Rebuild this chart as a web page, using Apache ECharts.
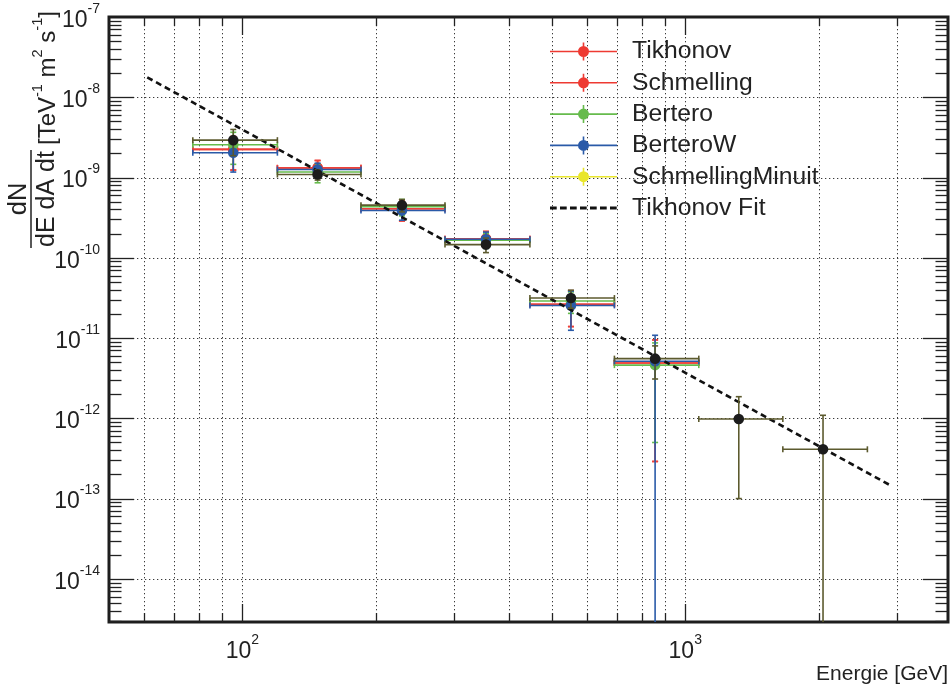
<!DOCTYPE html>
<html><head><meta charset="utf-8">
<script src="https://cdn.jsdelivr.net/npm/echarts@6/dist/echarts.min.js"></script>
<style>html,body{margin:0;padding:0;background:#fff}#c{width:952px;height:688px}</style>
</head><body><div id="c"></div>
<script>
// ---------- data ----------
const binCenter = [95.4, 147.9, 229.3, 354.9, 552, 855, 1321, 2047];
const binLow    = [77.3, 120, 185.3, 286.8, 446, 692, 1073, 1661];
const binHigh   = [120, 185.3, 286.8, 446, 692, 1073, 1661, 2578];

const tikhonov       = [2.24e-9, 1.32e-9, 4.08e-10, 1.73e-10, 2.64e-11, 4.89e-12];
const tikhonovErr    = [1.0e-9, 0.31e-9, 1.2e-10, 0.4e-10, 1.25e-11, 4.6e-12];
const schmelling     = [2.24e-9, 1.32e-9, 4.08e-10, 1.73e-10, 2.64e-11, 4.89e-12];
const schmellingErr  = [1.0e-9, 0.31e-9, 1.2e-10, 0.4e-10, 1.25e-11, 4.6e-12];
const bertero        = [2.56e-9, 1.17e-9, 4.33e-10, 1.66e-10, 2.89e-11, 4.6e-12];
const berteroErr     = [1.1e-9, 0.31e-9, 1.0e-10, 0.35e-10, 0.86e-11, 4.1e-12];
const berteroW       = [2.04e-9, 1.26e-9, 3.89e-10, 1.70e-10, 2.55e-11, 5.13e-12];
const berteroWErr    = [0.87e-9, 0.25e-9, 0.95e-10, 0.39e-10, 1.3e-11, 5.7e-12];
const minuit         = [2.92e-9, 1.09e-9, 4.53e-10, 1.46e-10, 3.15e-11, 5.54e-12, 9.8e-13, 4.11e-13];
const minuitErr      = [1.05e-9, 0.16e-9, 0.8e-10, 0.3e-10, 0.8e-11, 2.45e-12, 0.88e-12, 6.8e-13];

const fitX = [61, 2900];
const fitY = [1.77e-8, 1.47e-13];

const xMajorTicks = [100, 1000];
const xMinorTicks = [60, 70, 80, 90, 200, 300, 400, 500, 600, 700, 800, 900, 2000, 3000];
const yMajorTicks = [1e-14, 1e-13, 1e-12, 1e-11, 1e-10, 1e-9, 1e-8];
const yMinorDecades = [1e-15, 1e-14, 1e-13, 1e-12, 1e-11, 1e-10, 1e-9, 1e-8];
const yMinorMultipliers = [2, 3, 4, 5, 6, 7, 8, 9];
const xLabelExponents = [2, 3];
const yLabelExponents = [-14, -13, -12, -11, -10, -9, -8, -7];

// ---------- layout / style ----------
const X_MIN = 50, X_MAX = 3920, Y_MIN = 2.9e-15, Y_MAX = 1e-7;
const FONT = "'Liberation Sans', Arial, Helvetica, sans-serif";
const TXT = '#222';

const methods = [
  {name: 'Tikhonov', vals: tikhonov, errs: tikhonovErr, bar: '#ee4038', mark: '#ee3a32', legend: '#ee3a32', z: 3},
  {name: 'Schmelling', vals: schmelling, errs: schmellingErr, bar: '#ee4038', mark: '#ee3a32', legend: '#ee3a32', z: 3},
  {name: 'Bertero', vals: bertero, errs: berteroErr, bar: '#66bb4c', mark: '#66bb4c', legend: '#66bb4c', z: 3},
  {name: 'BerteroW', vals: berteroW, errs: berteroWErr, bar: '#2a5aa8', mark: '#2a5aa8', legend: '#2a5aa8', z: 3},
  {name: 'SchmellingMinuit', vals: minuit, errs: minuitErr, bar: '#5c5a2e', mark: '#1c1c1c', legend: '#e9e62c', z: 5}
];

const ICON = 'path://M0 8.2H67V9.8H0Z M32.7 0H34.3V18H32.7Z M39 9A5.5 5.5 0 1 1 28 9A5.5 5.5 0 1 1 39 9Z';
const FIT_ICON = 'path://M0 0L0.01 0L0 0.01Z M67 18L66.99 18L67 17.99Z ' +
  'M0 7.6H6.7V10.4H0Z M10 7.6H16.7V10.4H10Z M20 7.6H26.7V10.4H20Z M30 7.6H36.7V10.4H30Z ' +
  'M40 7.6H46.7V10.4H40Z M50 7.6H56.7V10.4H50Z M60 7.6H66.7V10.4H60Z';

function makeRender(barColor, markColor) {
  return function (params, api) {
    const cs = params.coordSys;
    const xc = api.value(0), y = api.value(1), xl = api.value(2), xh = api.value(3), e = api.value(4);
    const c = api.coord([xc, y]);
    const l = api.coord([xl, y]);
    const r = api.coord([xh, y]);
    const top = api.coord([xc, y + e])[1];
    const lowVal = y - e;
    const clamped = !(lowVal > Y_MIN);
    const bot = clamped ? cs.y + cs.height : api.coord([xc, lowVal])[1];
    const st = {stroke: barColor, lineWidth: 1.6};
    const ch = [
      {type: 'line', shape: {x1: l[0], y1: c[1], x2: r[0], y2: c[1]}, style: st},
      {type: 'line', shape: {x1: l[0], y1: c[1] - 3, x2: l[0], y2: c[1] + 3}, style: st},
      {type: 'line', shape: {x1: r[0], y1: c[1] - 3, x2: r[0], y2: c[1] + 3}, style: st},
      {type: 'line', shape: {x1: c[0], y1: top, x2: c[0], y2: bot}, style: st},
      {type: 'line', shape: {x1: c[0] - 3, y1: top, x2: c[0] + 3, y2: top}, style: st}
    ];
    if (!clamped) ch.push({type: 'line', shape: {x1: c[0] - 3, y1: bot, x2: c[0] + 3, y2: bot}, style: st});
    ch.push({type: 'circle', shape: {cx: c[0], cy: c[1], r: 5.3}, style: {fill: markColor}});
    return {type: 'group', children: ch};
  };
}

const Y_DUMMY = 1e-10, X_DUMMY = 100;
function renderXGrid(params, api) {
  const cs = params.coordSys;
  const px = Math.round(api.coord([api.value(0), Y_DUMMY])[0]) + 0.5;
  const len = api.value(2) === 1 ? 18 : 9;
  const t = cs.y, b = cs.y + cs.height;
  return {type: 'group', children: [
    {type: 'line', shape: {x1: px, y1: t, x2: px, y2: b}, style: {stroke: '#3a3a3a', lineWidth: 1, lineDash: [1.3, 2.7]}},
    {type: 'line', shape: {x1: px, y1: b, x2: px, y2: b - len}, style: {stroke: TXT, lineWidth: 1.3}},
    {type: 'line', shape: {x1: px, y1: t, x2: px, y2: t + len}, style: {stroke: TXT, lineWidth: 1.3}}
  ]};
}
function renderYGrid(params, api) {
  const cs = params.coordSys;
  const py = Math.round(api.coord([X_DUMMY, api.value(1)])[1]) + 0.5;
  const major = api.value(2) === 1;
  const len = major ? 25 : 12.5;
  const l = cs.x, r = cs.x + cs.width;
  const ch = [
    {type: 'line', shape: {x1: l, y1: py, x2: l + len, y2: py}, style: {stroke: TXT, lineWidth: 1.3}},
    {type: 'line', shape: {x1: r, y1: py, x2: r - len, y2: py}, style: {stroke: TXT, lineWidth: 1.3}}
  ];
  if (major) ch.unshift({type: 'line', shape: {x1: l, y1: py, x2: r, y2: py}, style: {stroke: '#3a3a3a', lineWidth: 1, lineDash: [1.3, 2.7]}});
  return {type: 'group', children: ch};
}

const xGridData = xMajorTicks.map(v => [v, Y_DUMMY, 1]).concat(xMinorTicks.map(v => [v, Y_DUMMY, 0]));
const yMinorTicks = [];
yMinorDecades.forEach(d => yMinorMultipliers.forEach(m => { const v = d * m; if (v >= Y_MIN && v <= Y_MAX) yMinorTicks.push(v); }));
const yGridData = yMajorTicks.map(v => [X_DUMMY, v, 1]).concat(yMinorTicks.map(v => [X_DUMMY, v, 0]));

function expLabel(list) {
  return function (v) {
    const e = Math.log10(v), r = Math.round(e);
    if (Math.abs(e - r) < 1e-6 && list.indexOf(r) >= 0) return '{b|10}{s|' + r + '}';
    return '';
  };
}
const labelRich = {
  b: {fontSize: 23, fontFamily: FONT, color: TXT, lineHeight: 30, verticalAlign: 'bottom'},
  s: {fontSize: 14, fontFamily: FONT, color: TXT, lineHeight: 14, verticalAlign: 'top'}
};

const series = [
  {type: 'custom', name: '_xgrid', renderItem: renderXGrid, data: xGridData, encode: {x: 0, y: 1}, silent: true, z: 1, clip: false},
  {type: 'custom', name: '_ygrid', renderItem: renderYGrid, data: yGridData, encode: {x: 0, y: 1}, silent: true, z: 1, clip: false}
];
methods.forEach(m => {
  const data = m.vals.map((v, i) => [binCenter[i], v, binLow[i], binHigh[i], m.errs[i]]);
  series.push({type: 'custom', name: m.name, renderItem: makeRender(m.bar, m.mark), data: data,
    encode: {x: 0, y: 1}, itemStyle: {color: m.legend}, z: m.z, clip: false, silent: true});
});
series.push({type: 'line', name: 'Tikhonov Fit', data: fitX.map((x, i) => [x, fitY[i]]), symbol: 'none',
  itemStyle: {color: '#111'},
  lineStyle: {color: '#111', width: 2.6, type: [6, 4]}, z: 4, silent: true, animation: false});

const chart = echarts.init(document.getElementById('c'), null, {renderer: 'canvas'});
chart.setOption({
  animation: false,
  backgroundColor: '#fff',
  grid: {left: 109, top: 17, width: 839, height: 605, show: true, borderColor: '#1d1d1d', borderWidth: 3, backgroundColor: 'transparent'},
  xAxis: {type: 'log', logBase: 10, min: X_MIN, max: X_MAX,
    axisLine: {show: false}, axisTick: {show: false}, splitLine: {show: false}, minorTick: {show: false},
    axisLabel: {interval: 0, margin: 11, formatter: expLabel(xLabelExponents), rich: labelRich}},
  yAxis: {type: 'log', logBase: 10, min: Y_MIN, max: Y_MAX,
    axisLine: {show: false}, axisTick: {show: false}, splitLine: {show: false}, minorTick: {show: false},
    axisLabel: {interval: 0, margin: 9, formatter: expLabel(yLabelExponents), rich: labelRich}},
  legend: {
    orient: 'vertical', left: 550, top: 39, padding: 0, itemWidth: 67, itemHeight: 18, itemGap: 6.3,
    selectedMode: false,
    textStyle: {fontSize: 24.7, lineHeight: 25, fontFamily: FONT, color: TXT, padding: [0, 0, 0, 10]},
    data: methods.map(m => ({name: m.name, icon: ICON, itemStyle: {color: m.legend}}))
      .concat([{name: 'Tikhonov Fit', icon: FIT_ICON, itemStyle: {color: '#111'}}])
  },
  graphic: [
    {type: 'text', right: 4, top: 664, style: {text: 'Energie [GeV]', fontSize: 21, fontFamily: FONT, fill: TXT}},
    {type: 'group', x: 31, y: 199, rotation: Math.PI / 2, children: [
      {type: 'text', x: 0, y: -12, style: {text: 'dN', fontSize: 25.5, fontFamily: FONT, fill: TXT, align: 'center', verticalAlign: 'middle'}},
      {type: 'line', shape: {x1: -49, y1: 0, x2: 49, y2: 0}, style: {stroke: TXT, lineWidth: 1.5}},
      {type: 'text', x: 0, y: 16, style: {text: 'dE dA dt', fontSize: 25, fontFamily: FONT, fill: TXT, align: 'center', verticalAlign: 'middle'}},
      {type: 'text', x: 54, y: 14, style: {
        text: '{n|[TeV}{s|-1}{n| m}{s|2}{n| s}{s|-1}{n|]}', align: 'left', verticalAlign: 'middle',
        rich: {
          n: {fontSize: 24, fontFamily: FONT, fill: TXT, lineHeight: 30, verticalAlign: 'bottom'},
          s: {fontSize: 14.5, fontFamily: FONT, fill: TXT, lineHeight: 14, verticalAlign: 'top'}
        }}}
    ]}
  ],
  series: series
});
</script></body></html>
